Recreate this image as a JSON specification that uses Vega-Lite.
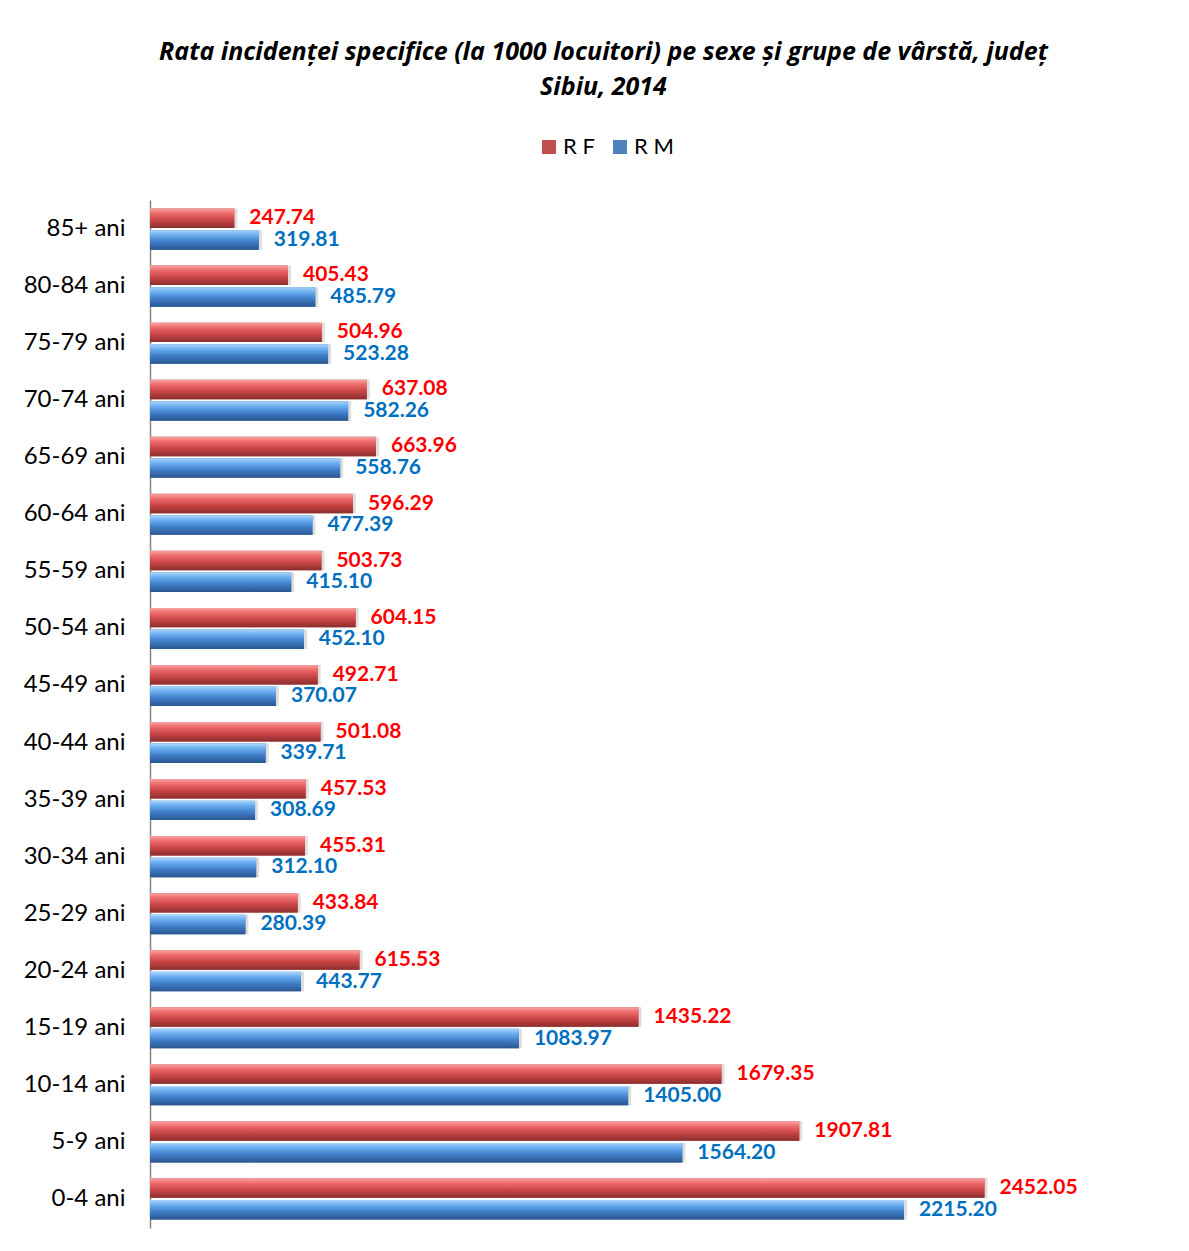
{
  "$schema": "https://vega.github.io/schema/vega-lite/v6.json",
  "width": 1021,
  "height": 1028,
  "autosize": {"type": "none"},
  "padding": {"left": 150, "top": 200, "right": 18, "bottom": 23},
  "background": "white",
  "title": {
    "text": ["Rata incidenței specifice (la 1000 locuitori) pe sexe și grupe de vârstă, județ", "Sibiu, 2014"],
    "font": "Open Sans",
    "fontSize": 25,
    "fontStyle": "italic",
    "fontWeight": "bold",
    "color": "#000000",
    "anchor": "middle",
    "frame": "group",
    "dx": -57,
    "offset": 36,
    "lineHeight": 35
  },
  "data": {
    "values": [
      {"grupa": "85+ ani", "sex": "R F", "valoare": 247.74},
      {"grupa": "85+ ani", "sex": "R M", "valoare": 319.81},
      {"grupa": "80-84 ani", "sex": "R F", "valoare": 405.43},
      {"grupa": "80-84 ani", "sex": "R M", "valoare": 485.79},
      {"grupa": "75-79 ani", "sex": "R F", "valoare": 504.96},
      {"grupa": "75-79 ani", "sex": "R M", "valoare": 523.28},
      {"grupa": "70-74 ani", "sex": "R F", "valoare": 637.08},
      {"grupa": "70-74 ani", "sex": "R M", "valoare": 582.26},
      {"grupa": "65-69 ani", "sex": "R F", "valoare": 663.96},
      {"grupa": "65-69 ani", "sex": "R M", "valoare": 558.76},
      {"grupa": "60-64 ani", "sex": "R F", "valoare": 596.29},
      {"grupa": "60-64 ani", "sex": "R M", "valoare": 477.39},
      {"grupa": "55-59 ani", "sex": "R F", "valoare": 503.73},
      {"grupa": "55-59 ani", "sex": "R M", "valoare": 415.10},
      {"grupa": "50-54 ani", "sex": "R F", "valoare": 604.15},
      {"grupa": "50-54 ani", "sex": "R M", "valoare": 452.10},
      {"grupa": "45-49 ani", "sex": "R F", "valoare": 492.71},
      {"grupa": "45-49 ani", "sex": "R M", "valoare": 370.07},
      {"grupa": "40-44 ani", "sex": "R F", "valoare": 501.08},
      {"grupa": "40-44 ani", "sex": "R M", "valoare": 339.71},
      {"grupa": "35-39 ani", "sex": "R F", "valoare": 457.53},
      {"grupa": "35-39 ani", "sex": "R M", "valoare": 308.69},
      {"grupa": "30-34 ani", "sex": "R F", "valoare": 455.31},
      {"grupa": "30-34 ani", "sex": "R M", "valoare": 312.10},
      {"grupa": "25-29 ani", "sex": "R F", "valoare": 433.84},
      {"grupa": "25-29 ani", "sex": "R M", "valoare": 280.39},
      {"grupa": "20-24 ani", "sex": "R F", "valoare": 615.53},
      {"grupa": "20-24 ani", "sex": "R M", "valoare": 443.77},
      {"grupa": "15-19 ani", "sex": "R F", "valoare": 1435.22},
      {"grupa": "15-19 ani", "sex": "R M", "valoare": 1083.97},
      {"grupa": "10-14 ani", "sex": "R F", "valoare": 1679.35},
      {"grupa": "10-14 ani", "sex": "R M", "valoare": 1405.00},
      {"grupa": "5-9 ani", "sex": "R F", "valoare": 1907.81},
      {"grupa": "5-9 ani", "sex": "R M", "valoare": 1564.20},
      {"grupa": "0-4 ani", "sex": "R F", "valoare": 2452.05},
      {"grupa": "0-4 ani", "sex": "R M", "valoare": 2215.20}
    ]
  },
  "encoding": {
    "y": {
      "field": "grupa",
      "type": "nominal",
      "sort": ["85+ ani", "80-84 ani", "75-79 ani", "70-74 ani", "65-69 ani", "60-64 ani", "55-59 ani", "50-54 ani", "45-49 ani", "40-44 ani", "35-39 ani", "30-34 ani", "25-29 ani", "20-24 ani", "15-19 ani", "10-14 ani", "5-9 ani", "0-4 ani"],
      "scale": {"paddingInner": 0.28, "paddingOuter": 0.15},
      "axis": {
        "title": null,
        "ticks": false,
        "grid": false,
        "labelFont": "Lato",
        "labelFontSize": 24,
        "labelColor": "#000000",
        "labelPadding": 25,
        "domainColor": "#868686",
        "domainWidth": 1.5
      }
    },
    "yOffset": {
      "field": "sex",
      "type": "nominal",
      "scale": {"domain": ["R F", "R M"], "paddingInner": 0.1}
    },
    "x": {
      "field": "valoare",
      "type": "quantitative",
      "scale": {"domain": [0, 3000]},
      "axis": null
    }
  },
  "layer": [
    {
      "mark": {"type": "bar", "color": "#000000", "opacity": 0.13, "xOffset": 3}
    },
    {
      "mark": {"type": "bar"},
      "encoding": {
        "color": {
          "field": "sex",
          "type": "nominal",
          "scale": {"domain": ["R F", "R M"], "range": ["#c0504d", "#4f81bd"]},
          "legend": {
            "title": null,
            "orient": "none",
            "legendX": 388,
            "legendY": -64,
            "direction": "horizontal",
            "symbolType": "square",
            "symbolSize": 196,
            "symbolStrokeWidth": 0,
            "symbolOpacity": 1,
            "labelFont": "Lato",
            "labelFontSize": 22,
            "labelColor": "#000000",
            "labelOffset": 3,
            "columnPadding": 14
          }
        }
      }
    },
    {
      "transform": [{"filter": "datum.sex === 'R F'"}],
      "mark": {"type": "bar", "color": {"gradient": "linear", "x1": 0, "y1": 0, "x2": 0, "y2": 1, "stops": [
        {"offset": 0, "color": "#f9a3a3"},
        {"offset": 0.25, "color": "#ee6b6b"},
        {"offset": 0.6, "color": "#c94545"},
        {"offset": 1, "color": "#8b2e2e"}
      ]}}
    },
    {
      "transform": [{"filter": "datum.sex === 'R M'"}],
      "mark": {"type": "bar", "color": {"gradient": "linear", "x1": 0, "y1": 0, "x2": 0, "y2": 1, "stops": [
        {"offset": 0, "color": "#a8d4fb"},
        {"offset": 0.25, "color": "#6aaef0"},
        {"offset": 0.6, "color": "#3f7dc8"},
        {"offset": 1, "color": "#2a568f"}
      ]}}
    },
    {
      "mark": {"type": "text", "align": "left", "baseline": "middle", "dx": 15, "font": "Lato", "fontSize": 21, "fontWeight": "bold"},
      "encoding": {
        "text": {"field": "valoare", "type": "quantitative", "format": ".2f"},
        "color": {"condition": {"test": "datum.sex === 'R F'", "value": "#ff0000"}, "value": "#0070c0"}
      }
    }
  ],
  "config": {"view": {"stroke": null}}
}
